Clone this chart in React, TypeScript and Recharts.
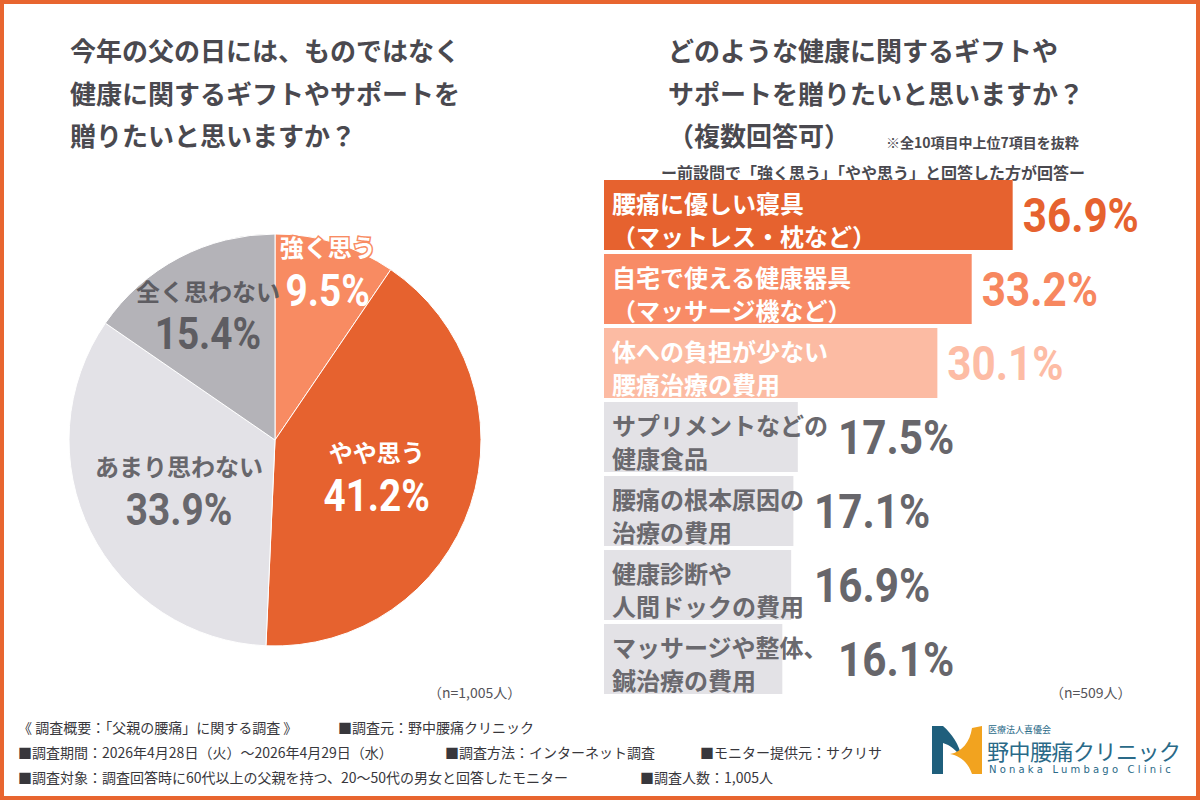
import React from 'react';
import { PieChart, Pie, Cell, BarChart, Bar, XAxis, YAxis } from 'recharts';

// 左：父の日に健康ギフトを贈りたいか
const pieNames = ['強く思う', 'やや思う', 'あまり思わない', '全く思わない'];
const pieValues = [9.5, 41.2, 33.9, 15.4];
const pieColors = ['#F88B62', '#E6622F', '#E3E2E7', '#B4B3B8'];
const pieTextColors = ['#ffffff', '#ffffff', '#68676c', '#5e5d62'];

// 右：贈りたいギフト（上位7項目）
const giftLine1 = ['腰痛に優しい寝具', '自宅で使える健康器具', '体への負担が少ない', 'サプリメントなどの', '腰痛の根本原因の', '健康診断や', 'マッサージや整体、'];
const giftLine2 = ['（マットレス・枕など）', '（マッサージ機など）', '腰痛治療の費用', '健康食品', '治療の費用', '人間ドックの費用', '鍼治療の費用'];
const giftValues = [36.9, 33.2, 30.1, 17.5, 17.1, 16.9, 16.1];
const barColors = ['#E6622F', '#F88B66', '#FCBBA3', '#E3E2E6', '#E3E2E6', '#E3E2E6', '#E3E2E6'];
const barTextColors = ['#ffffff', '#ffffff', '#ffffff', '#6a696e', '#6a696e', '#6a696e', '#6a696e'];
const barValueColors = ['#E6622F', '#F7875F', '#FDBCA5', '#67666b', '#67666b', '#67666b', '#67666b'];

const footerLines = [
  ['《 調査概要：「父親の腰痛」に関する調査 》', '■調査元：野中腰痛クリニック'],
  ['■調査期間：2026年4月28日（火）～2026年4月29日（水）', '■調査方法：インターネット調査', '■モニター提供元：サクリサ'],
  ['■調査対象：調査回答時に60代以上の父親を持つ、20～50代の男女と回答したモニター', '■調査人数：1,005人'],
];
const footerX = [[18, 338], [18, 445, 700], [18, 640]];

const JP = "'Noto Sans CJK JP', 'Noto Sans', sans-serif";
const NUM = "Roboto, 'DejaVu Sans', sans-serif";
const NUM_SQUEEZE = 0.88;
const TITLE = '#4a494f';

const pieData = pieNames.map((name, i) => ({ name, value: pieValues[i] }));
const giftData = giftValues.map((value, i) => ({ key: String(i), line1: giftLine1[i], line2: giftLine2[i], value }));

const RAD = Math.PI / 180;

const NumText = ({ x, y, size, color, anchor = 'start', children }: any) => (
  <text transform={`translate(${x} ${y}) scale(${NUM_SQUEEZE} 1)`} x={0} y={0} textAnchor={anchor}
    fill={color} fontFamily={NUM} fontWeight={700} fontSize={size}>{children}</text>
);

const renderPieLabel = (props: any) => {
  const { cx, cy, midAngle, outerRadius, index, value } = props;
  const k = value < 12 ? 0.87 : value < 20 ? 0.7 : 0.52;
  const bx = cx + outerRadius * k * Math.cos(-midAngle * RAD);
  const by = cy + outerRadius * k * Math.sin(-midAngle * RAD);
  const color = pieTextColors[index];
  return (
    <g>
      <text x={bx} y={by - 22} textAnchor="middle" dominantBaseline="central" fill={color}
        stroke={index === 0 ? pieColors[0] : 'none'} strokeWidth={3} paintOrder="stroke"
        fontFamily={JP} fontWeight={700} fontSize={24}>{pieNames[index]}</text>
      <NumText x={bx} y={by + 37} size={44} color={color} anchor="middle">{value.toFixed(1)}%</NumText>
    </g>
  );
};

const GiftBar = (props: any) => {
  const { x, y, width, height, payload, index } = props;
  const fs = 24;
  const left = x + 8;
  const textEnd = left + Math.max(payload.line1.length, payload.line2.length) * fs;
  const valueX = Math.max(x + width, textEnd) + 10;
  return (
    <g>
      <rect x={x} y={y} width={width} height={height} fill={barColors[index]} />
      <text x={left} y={y + 22} dominantBaseline="central" fill={barTextColors[index]}
        fontFamily={JP} fontWeight={700} fontSize={fs}>{payload.line1}</text>
      <text x={left} y={y + 55} dominantBaseline="central" fill={barTextColors[index]}
        fontFamily={JP} fontWeight={700} fontSize={fs}>{payload.line2}</text>
      <NumText x={valueX} y={y + height / 2 + 17} size={48} color={barValueColors[index]}>
        {payload.value.toFixed(1)}%
      </NumText>
    </g>
  );
};

const abs = (left: number, top: number, extra: React.CSSProperties = {}): React.CSSProperties => ({
  position: 'absolute', left, top, whiteSpace: 'nowrap', ...extra,
});

export default function App() {
  return (
    <div style={{ position: 'absolute', left: 0, top: 0, width: 1200, height: 800, background: '#ffffff', overflow: 'hidden', fontFamily: JP }}>
      {/* 左タイトル */}
      <div style={abs(70, 29, { fontSize: 26, fontWeight: 700, lineHeight: '42.5px', color: TITLE })}>
        今年の父の日には、ものではなく<br />健康に関するギフトやサポートを<br />贈りたいと思いますか？
      </div>

      {/* 右タイトル */}
      <div style={abs(668, 29, { fontSize: 26, fontWeight: 700, lineHeight: '42.5px', color: TITLE })}>
        どのような健康に関するギフトや<br />サポートを贈りたいと思いますか？<br />（複数回答可）
      </div>
      <div style={abs(886, 132, { fontSize: 14, fontWeight: 700, lineHeight: '20px', color: TITLE })}>
        ※全10項目中上位7項目を抜粋
      </div>
      <div style={abs(661, 161, { fontSize: 16, fontWeight: 700, lineHeight: '22px', color: TITLE })}>
        ー前設問で「強く思う」「やや思う」と回答した方が回答ー
      </div>

      {/* 円グラフ */}
      <div style={abs(20, 200)}>
        <PieChart width={500} height={470}>
          <Pie data={pieData} dataKey="value" nameKey="name" cx={250} cy={235} outerRadius={206}
            startAngle={90} endAngle={-270} stroke="#ffffff" strokeWidth={1}
            label={renderPieLabel} labelLine={false} isAnimationActive={false}>
            {pieData.map((d, i) => <Cell key={d.name} fill={pieColors[i]} />)}
          </Pie>
        </PieChart>
      </div>

      {/* 横棒グラフ */}
      <div style={abs(604, 178)}>
        <BarChart width={580} height={518} data={giftData} layout="vertical"
          margin={{ top: 0, right: 137, left: 0, bottom: 0 }}>
          <XAxis type="number" domain={[0, 40]} hide />
          <YAxis type="category" dataKey="key" hide />
          <Bar dataKey="value" barSize={70} shape={GiftBar} isAnimationActive={false} />
        </BarChart>
      </div>

      <div style={abs(428, 682, { fontSize: 14, color: '#555459', lineHeight: '20px' })}>（n=1,005人）</div>
      <div style={abs(1050, 682, { fontSize: 14, color: '#555459', lineHeight: '20px' })}>（n=509人）</div>

      {/* 調査概要 */}
      {footerLines.map((line, r) => line.map((t, c) => (
        <div key={`${r}-${c}`} style={abs(footerX[r][c], 717 + r * 25, { fontSize: 14, lineHeight: '20px', color: '#38373c' })}>{t}</div>
      )))}

      {/* ロゴ */}
      <svg style={abs(932, 726)} width={52} height={48} viewBox="0 0 52 48">
        <path d="M0 0 L11 0 C 20 8, 27 18, 30 32 C 24 24, 18 19, 11 17 L 11 48 L 0 48 Z" fill="#1F5F7C" />
        <path d="M50 0 L50 48 L40 48 C 36 36, 28 30, 18 28 C 30 26, 38 16, 40 2 Z" fill="#F2A31F" />
      </svg>
      <div style={abs(988, 725, { fontSize: 9, lineHeight: '9px', color: '#2A6A88' })}>医療法人喜優会</div>
      <div style={abs(987, 739, { fontSize: 22, lineHeight: '22px', color: '#2A6A88', letterSpacing: -0.5 })}>野中腰痛クリニック</div>
      <div style={abs(989, 765, { fontSize: 10, lineHeight: '10px', color: '#2A6A88', letterSpacing: 3.2, fontFamily: "'DejaVu Sans', sans-serif" })}>Nonaka Lumbago Clinic</div>

      {/* 枠線 */}
      <div style={{ position: 'absolute', inset: 0, border: '4px solid #E8652F', pointerEvents: 'none' }} />
    </div>
  );
}
